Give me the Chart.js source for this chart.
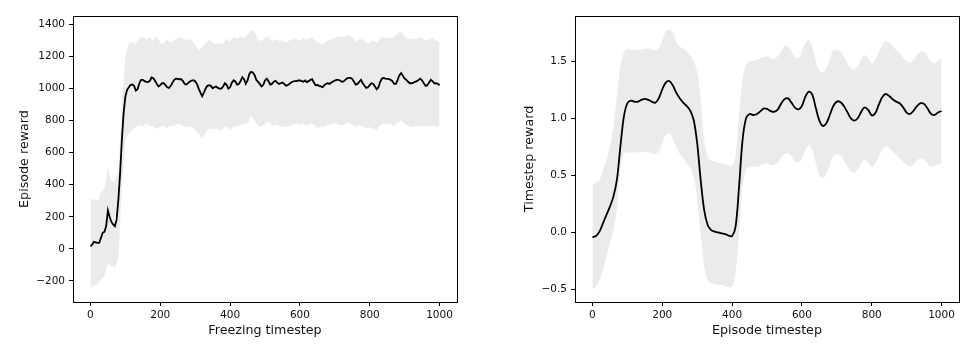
<!DOCTYPE html>
<html>
<head>
<meta charset="utf-8">
<script src="https://cdn.jsdelivr.net/npm/chart.js@4.4.1/dist/chart.umd.min.js"></script>
<style>
  body { margin: 0; background: #fff; }
  canvas { position: absolute; top: 0; }
</style>
</head>
<body>
<canvas id="freezeChart" width="490" height="344" style="left:0"></canvas>
<canvas id="episodeChart" width="489" height="344" style="left:490px"></canvas>
<script>
// ---- episode reward vs freezing timestep (mean every 5 steps, band every 10) ----
const freezeMean = [
  15, 27, 44, 41, 37, 37, 68, 100, 106, 141, 240, 199, 168, 153, 141, 182, 307, 473, 680, 846,
  950, 991, 1007, 1022, 1024, 1016, 987, 995, 1032, 1053, 1053, 1045, 1041, 1039, 1047, 1068, 1063, 1047, 1028, 1012,
  1020, 1032, 1032, 1020, 1007, 1003, 1016, 1036, 1053, 1061, 1059, 1057, 1057, 1045, 1028, 1024, 1034, 1043, 1049, 1051,
  1045, 1028, 999, 974, 951, 974, 999, 1016, 1020, 1016, 1001, 1007, 1012, 1003, 999, 999, 1012, 1032, 1022, 999,
  1007, 1036, 1051, 1043, 1024, 1028, 1045, 1070, 1057, 1028, 1049, 1090, 1103, 1099, 1084, 1053, 1041, 1028, 1012, 1022,
  1049, 1061, 1045, 1024, 1028, 1041, 1047, 1036, 1028, 1032, 1036, 1028, 1016, 1020, 1028, 1036, 1043, 1045, 1045, 1049,
  1049, 1045, 1041, 1049, 1039, 1045, 1053, 1057, 1036, 1020, 1022, 1016, 1012, 1007, 1020, 1028, 1032, 1028, 1036, 1043,
  1049, 1053, 1053, 1049, 1041, 1043, 1053, 1063, 1065, 1065, 1059, 1041, 1024, 1028, 1041, 1053, 1032, 1016, 1003, 1007,
  1020, 1032, 1028, 1012, 995, 1007, 1041, 1061, 1065, 1061, 1059, 1057, 1053, 1045, 1028, 1028, 1053, 1082, 1095, 1078,
  1061, 1053, 1041, 1032, 1032, 1036, 1041, 1045, 1053, 1061, 1049, 1032, 1016, 1020, 1036, 1053, 1045, 1032, 1032, 1028,
  1020
];
const freezeUpper = [
  307, 311, 296, 348, 379, 504, 421, 421, 473, 900,
  1200, 1281, 1291, 1277, 1318, 1318, 1306, 1322, 1298, 1327,
  1281, 1285, 1302, 1281, 1302, 1312, 1318, 1302, 1306, 1302,
  1271, 1235, 1256, 1281, 1302, 1285, 1277, 1281, 1277, 1312,
  1291, 1322, 1306, 1327, 1312, 1333, 1360, 1354, 1306, 1291,
  1318, 1322, 1291, 1306, 1298, 1298, 1285, 1298, 1306, 1306,
  1298, 1312, 1302, 1318, 1306, 1285, 1277, 1281, 1298, 1306,
  1312, 1327, 1318, 1322, 1333, 1318, 1291, 1306, 1306, 1285,
  1281, 1298, 1281, 1312, 1318, 1312, 1318, 1318, 1343, 1354,
  1322, 1306, 1312, 1306, 1318, 1312, 1298, 1306, 1318, 1298,
  1291
];
const freezeLower = [
  -243, -228, -222, -191, -170, -87, -108, -118, -60, 390,
  680, 721, 742, 759, 773, 763, 779, 767, 763, 746,
  763, 767, 752, 767, 767, 779, 773, 763, 759, 763,
  742, 721, 690, 721, 752, 742, 752, 732, 752, 767,
  742, 763, 759, 773, 779, 779, 829, 800, 767, 763,
  779, 794, 767, 773, 767, 763, 759, 767, 773, 779,
  773, 779, 767, 779, 773, 752, 763, 759, 773, 779,
  784, 773, 767, 779, 788, 773, 763, 773, 763, 752,
  759, 746, 742, 773, 779, 773, 779, 763, 788, 800,
  779, 767, 759, 763, 767, 759, 767, 763, 767, 763,
  759
];
const freezeYTicks = [-200, 0, 200, 400, 600, 800, 1000, 1200, 1400];

// ---- timestep reward vs episode timestep (every 10 steps) ----
const episodeMean = [
  -0.044, -0.032, 0.006, 0.079, 0.152, 0.225, 0.313, 0.459, 0.751, 1.015,
  1.132, 1.155, 1.146, 1.146, 1.161, 1.170, 1.161, 1.146, 1.137, 1.175,
  1.254, 1.313, 1.327, 1.289, 1.225, 1.175, 1.137, 1.108, 1.067, 0.985,
  0.781, 0.459, 0.196, 0.064, 0.020, 0.006, 0.000, -0.009, -0.015, -0.029,
  -0.032, 0.050, 0.401, 0.810, 1.000, 1.038, 1.029, 1.035, 1.058, 1.085,
  1.082, 1.064, 1.056, 1.073, 1.126, 1.167, 1.175, 1.137, 1.094, 1.079,
  1.108, 1.190, 1.234, 1.205, 1.088, 0.980, 0.933, 0.956, 1.029, 1.108,
  1.146, 1.143, 1.108, 1.056, 1.000, 0.980, 1.000, 1.058, 1.096, 1.073,
  1.026, 1.044, 1.117, 1.184, 1.213, 1.196, 1.167, 1.146, 1.132, 1.096,
  1.050, 1.038, 1.067, 1.108, 1.132, 1.126, 1.085, 1.038, 1.029, 1.050,
  1.064
];
const episodeUpper = [
  0.424, 0.436, 0.459, 0.547, 0.635, 0.751, 0.927, 1.190, 1.453, 1.576,
  1.605, 1.602, 1.599, 1.602, 1.605, 1.610, 1.614, 1.604, 1.594, 1.614,
  1.687, 1.760, 1.781, 1.746, 1.673, 1.629, 1.614, 1.585, 1.547, 1.497,
  1.409, 1.161, 0.810, 0.664, 0.629, 0.620, 0.611, 0.605, 0.599, 0.591,
  0.582, 0.664, 1.044, 1.336, 1.477, 1.497, 1.503, 1.512, 1.526, 1.535,
  1.541, 1.526, 1.518, 1.541, 1.585, 1.635, 1.629, 1.585, 1.541, 1.526,
  1.585, 1.658, 1.687, 1.629, 1.497, 1.418, 1.400, 1.439, 1.518, 1.594,
  1.599, 1.585, 1.541, 1.482, 1.439, 1.430, 1.459, 1.526, 1.556, 1.526,
  1.482, 1.512, 1.585, 1.643, 1.673, 1.664, 1.629, 1.599, 1.570, 1.535,
  1.497, 1.488, 1.518, 1.556, 1.585, 1.585, 1.547, 1.497, 1.482, 1.506,
  1.526
];
const episodeLower = [
  -0.500, -0.477, -0.418, -0.330, -0.213, -0.100, 0.020, 0.200, 0.550, 0.693,
  0.699, 0.699, 0.699, 0.703, 0.708, 0.704, 0.699, 0.693, 0.687, 0.708,
  0.781, 0.854, 0.868, 0.825, 0.751, 0.687, 0.649, 0.605, 0.561, 0.488,
  0.284, -0.009, -0.301, -0.418, -0.442, -0.453, -0.462, -0.462, -0.471, -0.482,
  -0.477, -0.360, -0.009, 0.401, 0.547, 0.570, 0.576, 0.576, 0.582, 0.599,
  0.605, 0.591, 0.591, 0.605, 0.649, 0.687, 0.693, 0.664, 0.620, 0.611,
  0.649, 0.722, 0.766, 0.722, 0.605, 0.503, 0.474, 0.518, 0.591, 0.670,
  0.687, 0.678, 0.635, 0.576, 0.532, 0.523, 0.553, 0.611, 0.640, 0.611,
  0.576, 0.599, 0.664, 0.728, 0.751, 0.737, 0.708, 0.678, 0.649, 0.620,
  0.591, 0.576, 0.599, 0.629, 0.649, 0.640, 0.605, 0.576, 0.582, 0.594,
  0.605
];
const episodeYTicks = [-0.5, 0.0, 0.5, 1.0, 1.5];

const xTicks = [0, 200, 400, 600, 800, 1000];

const FONT = 'DejaVu Sans';
const INK = '#111';

function steps(values, every) {
  return values.map((v, i) => ({ x: i * every, y: v }));
}

function minusSign(text) {
  return String(text).replace('-', '\u2212');
}

// box around the plot area, like matplotlib spines
const spines = {
  id: 'spines',
  afterDraw(chart) {
    const { ctx, chartArea: a } = chart;
    ctx.save();
    ctx.strokeStyle = '#000';
    ctx.lineWidth = 1;
    ctx.strokeRect(Math.round(a.left) + 0.5, Math.round(a.top) + 0.5,
      Math.round(a.right - a.left), Math.round(a.bottom - a.top));
    ctx.restore();
  },
};

function renderPanel(canvasId, p) {
  const axisText = { family: FONT, size: 12.7 };
  const tickText = { family: FONT, size: 10.5 };
  const tickGrid = { drawOnChartArea: false, drawTicks: true, tickLength: 4, color: '#000', lineWidth: 1 };

  new Chart(document.getElementById(canvasId), {
    type: 'line',
    data: {
      datasets: [
        {
          data: steps(p.mean, p.meanEvery),
          borderColor: '#000',
          borderWidth: 1.8,
          pointRadius: 0,
          tension: p.tension,
          fill: false,
          order: 0,
        },
        {
          data: steps(p.lower, 10),
          borderColor: 'rgba(0,0,0,0)',
          borderWidth: 0,
          pointRadius: 0,
          tension: p.tension,
          fill: false,
          order: 1,
        },
        {
          data: steps(p.upper, 10),
          borderColor: 'rgba(0,0,0,0)',
          backgroundColor: '#ebebeb',
          borderWidth: 0,
          pointRadius: 0,
          tension: p.tension,
          fill: 1,
          order: 1,
        },
      ],
    },
    options: {
      responsive: false,
      animation: false,
      devicePixelRatio: 1,
      events: [],
      layout: { padding: { left: 0, right: p.padRight, top: 16, bottom: 0 } },
      plugins: {
        legend: { display: false },
        tooltip: { enabled: false },
      },
      scales: {
        x: {
          type: 'linear',
          min: -50,
          max: 1050,
          afterBuildTicks: (s) => { s.ticks = xTicks.map((v) => ({ value: v })); },
          afterFit: (s) => { s.height = 42; },
          border: { display: false },
          grid: tickGrid,
          ticks: { color: INK, font: tickText, padding: 3, maxRotation: 0, callback: (v) => String(v) },
          title: { display: true, text: p.xTitle, color: INK, font: axisText, padding: { top: 0, bottom: 6 } },
        },
        y: {
          type: 'linear',
          min: p.yMin,
          max: p.yMax,
          afterBuildTicks: (s) => { s.ticks = p.yTicks.map((v) => ({ value: v })); },
          afterFit: (s) => { s.width = p.axisWidth; },
          border: { display: false },
          grid: tickGrid,
          ticks: {
            color: INK,
            font: tickText,
            padding: 4,
            callback: (v) => minusSign(v.toFixed(p.yDigits)),
          },
          title: { display: true, text: p.yTitle, color: INK, font: axisText, padding: { top: p.titleGap, bottom: 0 } },
        },
      },
    },
    plugins: [spines],
  });
}

renderPanel('freezeChart', {
  mean: freezeMean,
  meanEvery: 5,
  upper: freezeUpper,
  lower: freezeLower,
  tension: 0,
  yMin: -331,
  yMax: 1451,
  yTicks: freezeYTicks,
  yDigits: 0,
  yTitle: 'Episode reward',
  xTitle: 'Freezing timestep',
  axisWidth: 73,
  titleGap: 17,
  padRight: 33,
});

renderPanel('episodeChart', {
  mean: episodeMean,
  meanEvery: 10,
  upper: episodeUpper,
  lower: episodeLower,
  tension: 0.35,
  yMin: -0.611,
  yMax: 1.897,
  yTicks: episodeYTicks,
  yDigits: 1,
  yTitle: 'Timestep reward',
  xTitle: 'Episode timestep',
  axisWidth: 85,
  titleGap: 32,
  padRight: 20,
});
</script>
</body>
</html>
